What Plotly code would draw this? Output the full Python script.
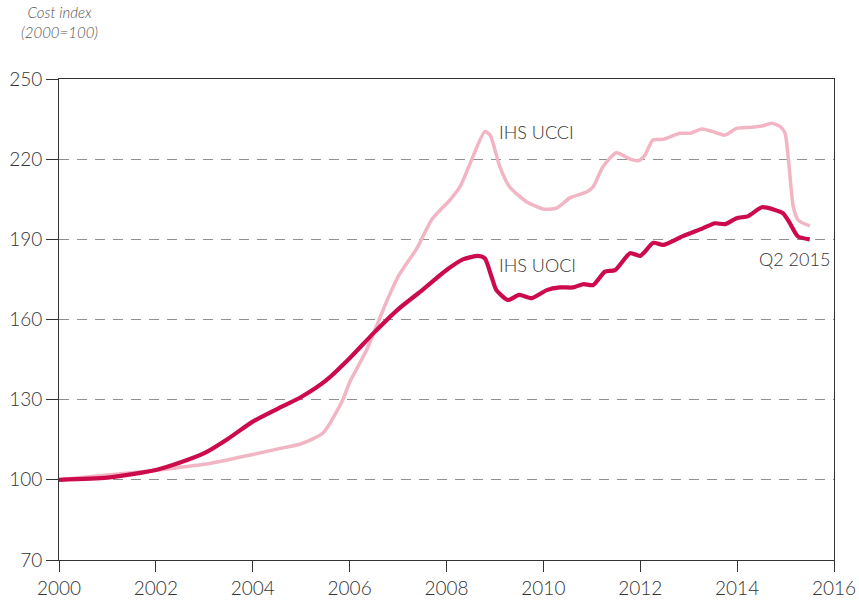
import plotly.graph_objects as go

# IHS UOCI (upstream operating cost index)
uoci_x = [2000.0, 2001.0, 2002.0, 2002.5, 2003.0, 2003.5, 2004.0, 2004.5, 2005.0, 2005.5,
          2006.0, 2006.5, 2007.0, 2007.5, 2008.0, 2008.34, 2008.65, 2008.79, 2008.93, 2009.03,
          2009.27, 2009.5, 2009.76, 2010.07, 2010.34, 2010.61, 2010.82, 2011.03, 2011.27, 2011.48,
          2011.79, 2012.0, 2012.27, 2012.47, 2012.88, 2013.29, 2013.54, 2013.75, 2013.99, 2014.23,
          2014.51, 2014.75, 2014.95, 2015.09, 2015.26, 2015.5]
uoci_y = [100.0, 100.8, 103.7, 106.5, 110.0, 115.5, 121.8, 126.5, 131.0, 137.0,
          145.5, 155.0, 163.8, 171.0, 178.5, 182.5, 183.8, 182.9, 176.0, 171.0,
          167.3, 169.2, 168.0, 171.0, 172.0, 172.0, 173.2, 172.9, 177.9, 178.5,
          184.8, 183.8, 188.7, 187.9, 191.2, 194.1, 196.0, 195.7, 197.9, 198.7,
          202.0, 201.2, 199.7, 196.0, 191.0, 190.0]

# IHS UCCI (upstream capital cost index)
ucci_x = [2000.0, 2001.0, 2002.0, 2003.0, 2004.0, 2004.5, 2005.0, 2005.45, 2005.86, 2006.0,
          2006.35, 2006.77, 2007.0, 2007.4, 2007.7, 2008.07, 2008.28, 2008.49, 2008.79, 2008.9,
          2009.1, 2009.3, 2009.65, 2010.0, 2010.27, 2010.55, 2010.9, 2011.03, 2011.23, 2011.51,
          2011.79, 2011.96, 2012.1, 2012.26, 2012.47, 2012.82, 2013.03, 2013.27, 2013.5, 2013.75,
          2013.99, 2014.27, 2014.51, 2014.72, 2014.89, 2014.99, 2015.06, 2015.16, 2015.26, 2015.5]
ucci_y = [100.0, 101.8, 103.6, 105.8, 109.5, 111.5, 113.5, 117.5, 130.0, 136.5,
          148.6, 167.0, 176.0, 187.0, 197.5, 204.7, 209.7, 218.5, 230.3, 229.0,
          217.2, 209.7, 204.1, 201.3, 201.7, 205.5, 207.8, 209.7, 217.2, 222.4,
          220.0, 219.4, 221.6, 227.2, 227.4, 229.7, 229.7, 231.3, 230.3, 229.0,
          231.5, 231.9, 232.4, 233.4, 232.2, 229.7, 219.7, 202.2, 197.2, 195.0]

y_ticks = [70, 100, 130, 160, 190, 220, 250]
x_ticks = [2000, 2002, 2004, 2006, 2008, 2010, 2012, 2014, 2016]

FONT = "Lato"
TXT = "#333333"
TICKFONT = dict(family=FONT, size=19, color=TXT, weight=300)
LABFONT = dict(family=FONT, size=18, color=TXT, weight=300)

fig = go.Figure()
fig.add_trace(go.Scatter(x=ucci_x, y=ucci_y, mode="lines",
                         line=dict(color="#f2b5c4", width=3.5, shape="spline", smoothing=0.6),
                         name="IHS UCCI", hoverinfo="x+y"))
fig.add_trace(go.Scatter(x=uoci_x, y=uoci_y, mode="lines",
                         line=dict(color="#cc0a4c", width=4.2, shape="spline", smoothing=0.6),
                         name="IHS UOCI", hoverinfo="x+y"))

fig.update_layout(
    width=859, height=600,
    margin=dict(l=59, r=25, t=79, b=40, autoexpand=False),
    paper_bgcolor="white", plot_bgcolor="white",
    showlegend=False,
    font=dict(family=FONT, color=TXT, size=17),
    xaxis=dict(range=[2000, 2016], tickvals=x_ticks, ticktext=[str(v) for v in x_ticks],
               showgrid=False, zeroline=False, showline=True, linecolor="#333333",
               linewidth=1, mirror=True, ticks="outside", ticklen=11, tickcolor="#333333",
               automargin=False, tickfont=TICKFONT),
    yaxis=dict(range=[70, 250], tickvals=y_ticks, ticktext=[str(v) for v in y_ticks],
               showgrid=True, gridcolor="#8f8f8f", griddash="10px,8px", gridwidth=1.2,
               zeroline=False, showline=True, linecolor="#333333", linewidth=1,
               mirror=True, ticks="outside", ticklen=12, tickcolor="#333333",
               automargin=False, tickfont=TICKFONT),
    annotations=[
        dict(text="<i>Cost index</i><br><i>(2000=100)</i>", xref="paper", yref="paper",
             x=0.0, y=1.0, yshift=57, xanchor="center", yanchor="middle", align="center",
             showarrow=False, font=dict(family=FONT, size=15, color="#555555", weight=300)),
        dict(text="IHS UCCI", x=2009.05, y=230, xref="x", yref="y", xanchor="left",
             showarrow=False, font=LABFONT),
        dict(text="IHS UOCI", x=2009.05, y=180.5, xref="x", yref="y", xanchor="left",
             showarrow=False, font=LABFONT),
        dict(text="Q2 2015", x=2015.95, y=182.5, xref="x", yref="y", xanchor="right",
             showarrow=False, font=LABFONT),
    ],
)

fig.write_html("out.html", config={"responsive": False, "displayModeBar": False},
               post_script="document.body.style.margin='0';document.body.style.padding='0';")
